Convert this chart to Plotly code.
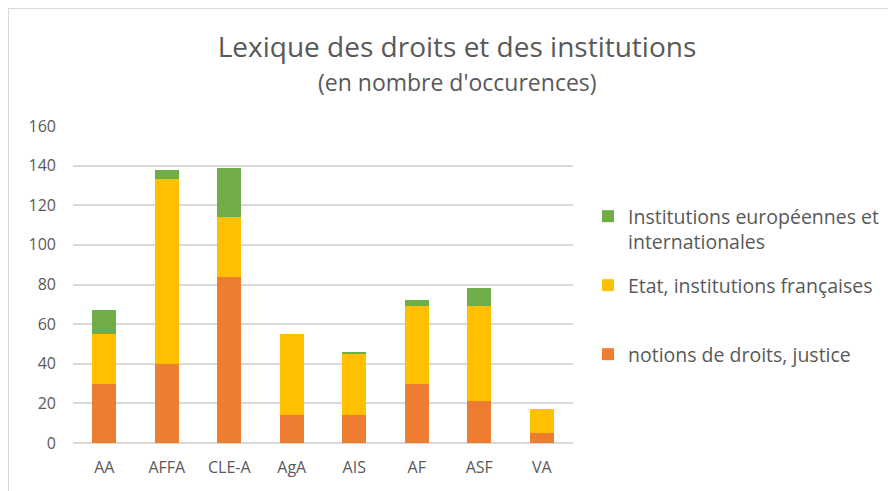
import plotly.graph_objects as go

categories = ["AA", "AFFA", "CLE-A", "AgA", "AIS", "AF", "ASF", "VA"]
droits_justice = [30, 40, 84, 14, 14, 30, 21, 5]
etat_institutions_fr = [25, 93, 30, 41, 31, 39, 48, 12]
institutions_eu_int = [12, 5, 25, 0, 1, 3, 9, 0]
y_ticks = [0, 20, 40, 60, 80, 100, 120, 140, 160]

FONT = "Open Sans"
TXT = "#595959"

# figure is offset by 8px body margin in the page
L, T, B = 65, 118, 56
PW, PH = 500, 317


def py(fig_px):
    """figure pixel y -> paper y"""
    return (T + PH - fig_px) / PH


fig = go.Figure()
fig.add_trace(go.Bar(x=categories, y=droits_justice, name="notions de droits, justice",
                     marker=dict(color="#ED7D31", line=dict(width=0)), legend="legend3"))
fig.add_trace(go.Bar(x=categories, y=etat_institutions_fr, name="Etat, institutions françaises",
                     marker=dict(color="#FFC000", line=dict(width=0)), legend="legend2"))
fig.add_trace(go.Bar(x=categories, y=institutions_eu_int,
                     name="Institutions européennes et<br>internationales",
                     marker=dict(color="#70AD47", line=dict(width=0)), legend="legend"))

leg_common = dict(x=1.03, xanchor="left", yanchor="top", valign="top",
                  font=dict(size=19.5, color=TXT, family=FONT), itemwidth=30,
                  bgcolor="rgba(0,0,0,0)")

fig.update_layout(
    barmode="stack",
    bargap=0.61,
    width=896, height=491,
    margin=dict(l=L, r=896 - L - PW, t=T, b=B),
    paper_bgcolor="white", plot_bgcolor="white",
    font=dict(family=FONT, color=TXT, size=16),
    title=dict(
        text="Lexique des droits et des institutions",
        x=(457 - 8) / 896, xanchor="center", y=1 - (47 - 8) / 491, yanchor="middle",
        font=dict(size=28, color=TXT, family=FONT),
    ),
    annotations=[
        dict(text="(en nombre d'occurences)", xref="paper", yref="paper",
             x=(457 - 8 - L) / PW, y=py(82 - 8), xanchor="center", yanchor="middle",
             showarrow=False, font=dict(size=23, color=TXT, family=FONT)),
    ],
    xaxis=dict(showgrid=False, showline=False, ticks="", ticklabelstandoff=13,
               tickfont=dict(size=16, color=TXT)),
    yaxis=dict(range=[0, 160], tickvals=y_ticks, showgrid=True, gridcolor="#D9D9D9",
               gridwidth=1.5, zeroline=True, zerolinecolor="#D9D9D9", zerolinewidth=1.5,
               ticks="", ticklabelstandoff=16, tickfont=dict(size=16, color=TXT)),
    legend=dict(y=py(189), **leg_common),
    legend2=dict(y=py(258), **leg_common),
    legend3=dict(y=py(327), **leg_common),
    showlegend=True,
    shapes=[
        dict(type="line", xref="paper", yref="paper", x0=-L / PW, x1=2,
             y0=(T + PH) / PH, y1=(T + PH) / PH, line=dict(color="#D9D9D9", width=2)),
        dict(type="line", xref="paper", yref="paper", x0=-L / PW, x1=-L / PW,
             y0=(T + PH) / PH, y1=-1, line=dict(color="#D9D9D9", width=2)),
    ],
)

fig.write_html("out.html")
